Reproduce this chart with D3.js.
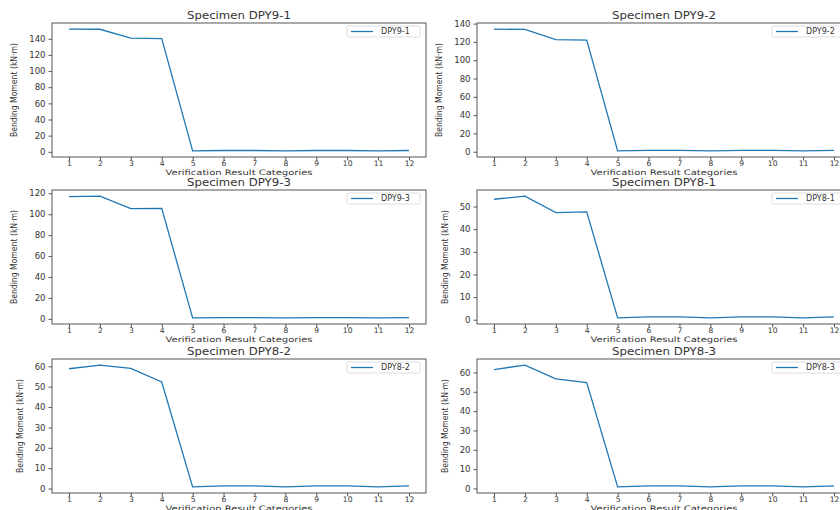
<!DOCTYPE html>
<html>
<head>
<meta charset="utf-8">
<script src="https://cdn.jsdelivr.net/npm/d3@7"></script>
<style>
  body { margin: 0; background: #fff; }
  svg { display: block; font-family: "DejaVu Sans", sans-serif; }
</style>
</head>
<body>
<div id="chart"></div>
<script>
// categories on the x axis
const categories = [1, 2, 3, 4, 5, 6, 7, 8, 9, 10, 11, 12];

// specimen names (panel order: row by row)
const specimens = ["DPY9-1", "DPY9-2", "DPY9-3", "DPY8-1", "DPY8-2", "DPY8-3"];

// bending moment values (kN·m)
const dpy9_1 = [152.0, 151.8, 140.8, 140.2, 1.2, 1.6, 1.6, 1.1, 1.6, 1.6, 1.1, 1.6];
const dpy9_2 = [134.0, 133.6, 122.4, 122.0, 1.0, 1.4, 1.4, 0.9, 1.4, 1.4, 0.9, 1.4];
const dpy9_3 = [116.8, 117.3, 105.3, 105.5, 1.0, 1.2, 1.2, 0.9, 1.2, 1.2, 0.9, 1.2];
const dpy8_1 = [53.2, 54.6, 47.3, 47.6, 0.8, 1.3, 1.3, 0.8, 1.3, 1.3, 0.8, 1.3];
const dpy8_2 = [58.8, 60.6, 59.0, 52.3, 0.8, 1.3, 1.3, 0.8, 1.3, 1.3, 0.8, 1.3];
const dpy8_3 = [61.5, 63.8, 56.7, 54.8, 0.8, 1.3, 1.3, 0.8, 1.3, 1.3, 0.8, 1.3];

// y tick labels for each panel
const yTicks1 = [0, 20, 40, 60, 80, 100, 120, 140];
const yTicks2 = [0, 20, 40, 60, 80, 100, 120, 140];
const yTicks3 = [0, 20, 40, 60, 80, 100, 120];
const yTicks4 = [0, 10, 20, 30, 40, 50];
const yTicks5 = [0, 10, 20, 30, 40, 50, 60];
const yTicks6 = [0, 10, 20, 30, 40, 50, 60];

const seriesList = [dpy9_1, dpy9_2, dpy9_3, dpy8_1, dpy8_2, dpy8_3];
const tickList = [yTicks1, yTicks2, yTicks3, yTicks4, yTicks5, yTicks6];

const xTitle = "Verification Result Categories";
const yTitle = "Bending Moment (kN\u00b7m)";

const W = 840, H = 510;
// panel grid (the right column runs off the page like the original)
const colLeft = [52, 477];
const rowTop = [23, 190, 359];
const pw = 374, ph = 134;
const lineColor = "#1f77b4";
const txt = "#333";

const svg = d3.select("#chart").append("svg")
  .attr("width", W)
  .attr("height", H);

svg.append("rect").attr("width", W).attr("height", H).attr("fill", "#fff");

specimens.forEach((name, i) => {
  const vals = seriesList[i];
  const left = colLeft[i % 2];
  const top = rowTop[Math.floor(i / 2)];

  const g = svg.append("g").attr("transform", "translate(" + left + "," + top + ")");

  // matplotlib style 5% margins
  const xr = d3.extent(categories);
  const xm = (xr[1] - xr[0]) * 0.05;
  const xScale = d3.scaleLinear().domain([xr[0] - xm, xr[1] + xm]).range([0, pw]);
  const yr = d3.extent(vals);
  const ym = (yr[1] - yr[0]) * 0.05;
  const yScale = d3.scaleLinear().domain([yr[0] - ym, yr[1] + ym]).range([ph, 0]);

  const xAxis = d3.axisBottom(xScale).tickValues(categories).tickSize(3.5).tickPadding(1);
  const yAxis = d3.axisLeft(yScale).tickValues(tickList[i]).tickSize(3.5).tickPadding(3);

  const gx = g.append("g").attr("transform", "translate(0," + ph + ")").call(xAxis);
  const gy = g.append("g").call(yAxis);
  [gx, gy].forEach(a => {
    a.select(".domain").remove();
    a.selectAll("line").attr("stroke", "#444").attr("stroke-width", 0.9);
    a.selectAll("text").attr("fill", txt).style("font-family", "DejaVu Sans");
  });
  gx.selectAll("text").style("font-size", "7.6px").attr("y", 3.6).attr("dy", "0.71em");
  gy.selectAll("text").style("font-size", "8.5px");

  // line
  g.append("path")
    .datum(categories.map((c, k) => [c, vals[k]]))
    .attr("fill", "none")
    .attr("stroke", lineColor)
    .attr("stroke-width", 1.3)
    .attr("d", d3.line().x(d => xScale(d[0])).y(d => yScale(d[1])));

  // frame
  g.append("rect")
    .attr("width", pw).attr("height", ph)
    .attr("fill", "none").attr("stroke", "#444").attr("stroke-width", 0.9);

  // title
  g.append("text")
    .attr("x", pw / 2).attr("y", -4)
    .attr("text-anchor", "middle")
    .attr("fill", txt)
    .attr("textLength", 104)
    .attr("lengthAdjust", "spacingAndGlyphs")
    .style("font-size", "9.8px")
    .text("Specimen " + name);

  // x label
  g.append("text")
    .attr("x", pw / 2).attr("y", ph + 18)
    .attr("text-anchor", "middle")
    .attr("fill", txt)
    .attr("textLength", 147)
    .attr("lengthAdjust", "spacingAndGlyphs")
    .style("font-size", "7.5px")
    .text(xTitle);

  // y label, sits left of the widest tick label
  let maxw = 0;
  gy.selectAll("text").each(function() { maxw = Math.max(maxw, this.getComputedTextLength()); });
  const lx = -7 - maxw - 15;
  g.append("text")
    .attr("transform", "translate(" + lx + "," + (ph / 2) + ") rotate(-90)")
    .attr("text-anchor", "middle")
    .attr("dy", "0.35em")
    .attr("fill", txt)
    .attr("textLength", 94)
    .attr("lengthAdjust", "spacingAndGlyphs")
    .style("font-family", "'Liberation Sans Narrow', 'DejaVu Sans Condensed', 'Liberation Sans', sans-serif")
    .style("font-size", "9.5px")
    .text(yTitle);

  // legend
  const bw = 73, bh = 11;
  const lg = g.append("g").attr("transform", "translate(" + (pw - 6 - bw) + ",3)");
  lg.append("rect")
    .attr("width", bw).attr("height", bh).attr("rx", 2)
    .attr("fill", "#fff").attr("fill-opacity", 0.8)
    .attr("stroke", "#d6d6d6").attr("stroke-width", 0.8);
  lg.append("line")
    .attr("x1", 4).attr("x2", 26).attr("y1", bh / 2).attr("y2", bh / 2)
    .attr("stroke", lineColor).attr("stroke-width", 1.3);
  lg.append("text")
    .attr("x", 34).attr("y", bh / 2).attr("dy", "0.35em")
    .attr("fill", txt)
    .style("font-size", "8px")
    .text(name);
});
</script>
</body>
</html>
